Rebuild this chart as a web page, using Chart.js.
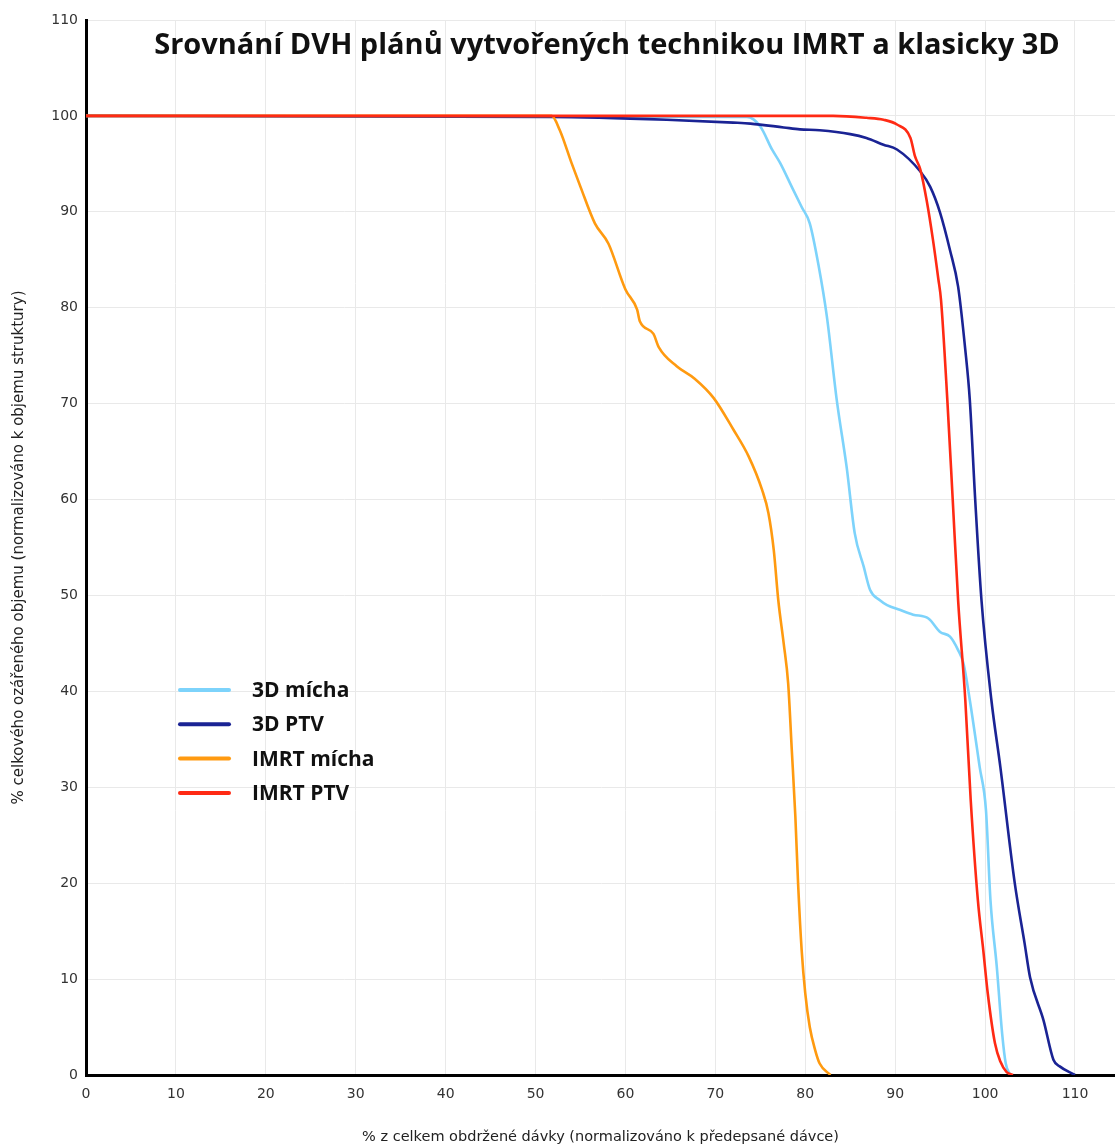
<!DOCTYPE html>
<html>
<head>
<meta charset="utf-8">
<title>Srovnání DVH</title>
<script src="https://cdn.jsdelivr.net/npm/chart.js@4.4.1/dist/chart.umd.min.js"></script>
<style>
    body { margin: 0; background: #fff; }
    #wrap { width: 1115px; height: 1146px; position: relative; }
</style>
</head>
<body>
<div id="wrap"><canvas id="dvh-graph"></canvas></div>
<script>
// dose (% of prescribed) and volume (% of structure)
const micha3dDose = [0, 73.5, 75.0, 76.3, 77.2, 78.5, 79.6, 80.5, 81.5, 82.4, 83.5, 84.6, 85.5, 86.5, 87.2, 88.3, 89.1, 90.5, 92.0, 93.7, 95.0, 96.1, 97.0, 97.6, 98.3, 99.4, 100.1, 100.6, 101.3, 101.9, 102.3, 102.8];
const micha3dVolume = [100, 99.9, 98.9, 96.5, 95.1, 92.6, 90.5, 88.8, 84.3, 79.1, 70.4, 63.4, 56.5, 53.0, 50.6, 49.5, 49.0, 48.5, 48.0, 47.6, 46.2, 45.7, 44.3, 42.9, 39.1, 32.1, 27.6, 18.2, 11.3, 4.3, 1.2, 0];

const ptv3dDose = [0, 51.6, 64.6, 72.0, 73.9, 77.6, 79.4, 81.6, 85.0, 86.8, 88.7, 90.2, 92.8, 93.9, 95.0, 96.1, 97.0, 97.8, 98.3, 98.9, 99.6, 100.7, 101.7, 103.3, 104.4, 105.0, 106.5, 107.6, 108.3, 110.0];
const ptv3dVolume = [100, 99.9, 99.6, 99.3, 99.2, 98.8, 98.6, 98.5, 98.1, 97.7, 97.0, 96.5, 94.2, 92.6, 89.9, 86.0, 82.2, 75.6, 70.4, 60.0, 49.5, 39.1, 32.1, 20.0, 13.7, 10.2, 5.7, 1.6, 0.9, 0];

const michaImrtDose = [0, 51.8, 52.7, 54.0, 55.0, 56.6, 58.1, 60.0, 61.3, 61.6, 63.1, 63.7, 65.7, 67.7, 69.8, 72.0, 73.7, 75.2, 75.9, 76.5, 77.0, 77.6, 78.1, 78.5, 78.9, 79.2, 79.6, 80.0, 80.5, 81.1, 81.6, 82.8];
const michaImrtVolume = [100, 100, 98.5, 95.1, 92.6, 88.8, 86.7, 81.9, 79.8, 78.6, 77.3, 75.9, 73.9, 72.6, 70.6, 67.3, 64.5, 61.0, 58.6, 54.7, 49.5, 45.0, 40.8, 33.9, 26.9, 20.0, 13.0, 8.5, 5.0, 2.6, 1.2, 0];

const ptvImrtDose = [0, 83.1, 86.8, 88.7, 90.2, 91.7, 92.2, 92.8, 93.5, 94.2, 94.8, 95.1, 95.8, 96.4, 97.0, 97.8, 98.4, 99.2, 99.8, 100.3, 101.1, 101.7, 102.4, 103.1];
const ptvImrtVolume = [100, 100, 99.8, 99.6, 99.1, 97.7, 95.8, 94.4, 91.2, 87.1, 83.0, 80.8, 70.4, 60.0, 49.5, 39.1, 28.7, 18.2, 13.0, 8.5, 3.3, 1.4, 0.3, 0];

const seriesNames = ["3D mícha", "3D PTV", "IMRT mícha", "IMRT PTV"];
const seriesColors = ["#7dd3fb", "#1a2394", "#ff9a10", "#ff2a14"];

const xTickValues = [0, 10, 20, 30, 40, 50, 60, 70, 80, 90, 100, 110];

const chartTitle = "Srovnání DVH plánů vytvořených technikou IMRT a klasicky 3D";
const xTitle = "% z celkem obdržené dávky (normalizováno k předepsané dávce)";
const yTitle = "% celkového ozářeného objemu (normalizováno k objemu struktury)";

function toPoints(xs, ys) {
    let pts = [];
    for (let i = 0; i < xs.length; i++) {
        pts.push({ x: xs[i], y: ys[i] });
    }
    return pts;
}

const allSeries = [
    toPoints(micha3dDose, micha3dVolume),
    toPoints(ptv3dDose, ptv3dVolume),
    toPoints(michaImrtDose, michaImrtVolume),
    toPoints(ptvImrtDose, ptvImrtVolume)
];

// red drawn on top, like the original
const drawOrder = [3, 2, 1, 0];

let datasets = [];
for (let i = 0; i < allSeries.length; i++) {
    datasets.push({
        label: seriesNames[i],
        data: allSeries[i],
        borderColor: seriesColors[i],
        backgroundColor: seriesColors[i],
        borderWidth: 2.6,
        pointRadius: 0,
        fill: false,
        cubicInterpolationMode: 'monotone',
        order: drawOrder[i]
    });
}

const insideText = {
    id: 'insideText',
    afterDatasetsDraw(chart) {
        const ctx = chart.ctx;
        const area = chart.chartArea;
        ctx.save();
        ctx.fillStyle = "#111";
        ctx.textAlign = "center";
        ctx.textBaseline = "middle";
        ctx.font = "bold 29px 'Open Sans', 'DejaVu Sans', sans-serif";
        ctx.fillText(chartTitle, 607, area.top + 26);

        // legend box, bottom left in the plot
        ctx.textAlign = "left";
        ctx.font = "bold 21px 'Open Sans', 'DejaVu Sans', sans-serif";
        ctx.lineCap = "round";
        for (let i = 0; i < seriesNames.length; i++) {
            let y = 690 + i * 34.3;
            ctx.strokeStyle = seriesColors[i];
            ctx.lineWidth = 4;
            ctx.beginPath();
            ctx.moveTo(180, y);
            ctx.lineTo(229, y);
            ctx.stroke();
            ctx.fillStyle = "#111";
            ctx.fillText(seriesNames[i], 252, y + 1);
        }
        ctx.restore();
    }
};

new Chart(document.getElementById("dvh-graph"), {
    type: 'line',
    data: { datasets: datasets },
    plugins: [insideText],
    options: {
        responsive: true,
        maintainAspectRatio: false,
        animation: false,
        layout: { padding: { top: 20, left: 0, right: 0, bottom: 0 } },
        plugins: {
            legend: { display: false },
            tooltip: { enabled: false }
        },
        scales: {
            x: {
                type: 'linear',
                min: 0,
                max: 114.45,
                afterBuildTicks: (axis) => {
                    axis.ticks = xTickValues.map(v => ({ value: v }));
                },
                afterFit: (axis) => { axis.height = 71; },
                border: { color: '#000', width: 3 },
                grid: { color: '#e9e9e9', lineWidth: 1, drawTicks: false },
                ticks: {
                    padding: 11,
                    color: '#333',
                    font: { size: 14, family: "'DejaVu Sans', sans-serif" }
                },
                title: {
                    display: true,
                    text: xTitle,
                    color: '#222',
                    padding: { top: 0, bottom: 0 },
                    font: { size: 14.5, family: "'DejaVu Sans', sans-serif" }
                }
            },
            y: {
                min: 0,
                max: 110,
                afterFit: (axis) => { axis.width = 86; },
                border: { color: '#000', width: 3 },
                grid: { color: '#e9e9e9', lineWidth: 1, drawTicks: false },
                ticks: {
                    stepSize: 10,
                    padding: 8,
                    color: '#333',
                    font: { size: 14, family: "'DejaVu Sans', sans-serif" }
                },
                title: {
                    display: true,
                    text: yTitle,
                    color: '#222',
                    padding: { top: 10, bottom: 0 },
                    font: { size: 15, family: "'DejaVu Sans', sans-serif" }
                }
            }
        }
    }
});
</script>
</body>
</html>
